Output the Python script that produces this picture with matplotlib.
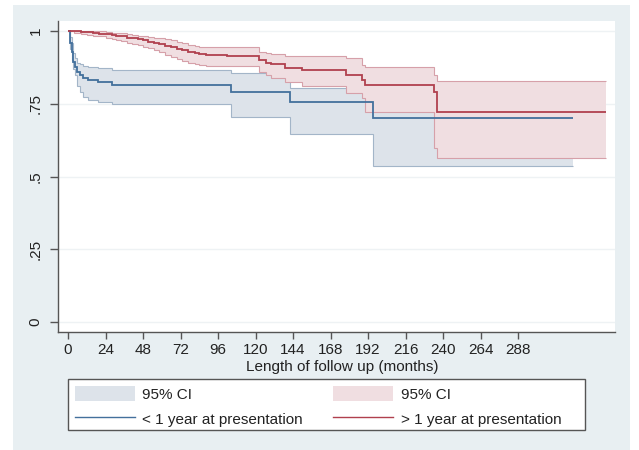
import matplotlib
matplotlib.use("Agg")
import matplotlib.pyplot as plt
from matplotlib.patches import Rectangle, Patch
from matplotlib.lines import Line2D

plt.rcParams["font.family"] = ["Liberation Sans", "DejaVu Sans"]

# Kaplan-Meier estimates: time (months), survival, lower / upper 95% CI
lt1_time = [0, 1.5, 2.3, 3.4, 4.5, 5.5, 7.7, 9.8, 13, 19.4, 28, 104, 142, 195]
lt1_surv = [1.0, 0.96, 0.93, 0.895, 0.878, 0.861, 0.85, 0.838, 0.832, 0.824, 0.814, 0.792, 0.757, 0.70]
lt1_lb = [1.0, 0.94, 0.90, 0.87, 0.85, 0.81, 0.792, 0.775, 0.764, 0.756, 0.748, 0.705, 0.646, 0.535]
lt1_ub = [1.0, 0.98, 0.959, 0.924, 0.907, 0.89, 0.886, 0.882, 0.878, 0.875, 0.867, 0.855, 0.804, 0.78]
lt1_end = 323

gt1_time = [0, 4, 8, 12, 16, 20, 24, 28, 31, 34, 38, 41, 45, 48, 51, 55, 58, 62, 66, 70, 73, 77, 81, 84,
            88, 102, 122, 127, 130, 139, 150, 178, 188, 190, 234.5, 236]
gt1_surv = [1.0, 0.999, 0.997, 0.996, 0.994, 0.992, 0.99, 0.987, 0.984, 0.982, 0.978, 0.975, 0.972, 0.968,
            0.964, 0.96, 0.955, 0.95, 0.945, 0.94, 0.935, 0.928, 0.924, 0.921,
            0.918, 0.913, 0.901, 0.89, 0.888, 0.875, 0.867, 0.85, 0.832, 0.815, 0.79, 0.722]
gt1_lb = [1.0, 0.995, 0.99, 0.988, 0.985, 0.982, 0.978, 0.973, 0.969, 0.965, 0.96, 0.957, 0.953, 0.947,
          0.941, 0.935, 0.927, 0.918, 0.911, 0.905, 0.899, 0.892, 0.887, 0.884,
          0.882, 0.882, 0.861, 0.85, 0.838, 0.824, 0.812, 0.787, 0.77, 0.723, 0.60, 0.563]
gt1_ub = [1.0, 1.0, 1.0, 1.0, 1.0, 0.999, 0.997, 0.995, 0.994, 0.993, 0.99, 0.988, 0.985, 0.982,
          0.98, 0.978, 0.975, 0.972, 0.968, 0.963, 0.958, 0.953, 0.949, 0.946,
          0.944, 0.944, 0.93, 0.925, 0.92, 0.915, 0.913, 0.907, 0.884, 0.878, 0.85, 0.83]
gt1_end = 344

xticks = list(range(0, 289, 24))
yticks = [0, 0.25, 0.5, 0.75, 1]
ylabels = ["0", ".25", ".5", ".75", "1"]

BG = "#e8eff2"
BLUE, BLUE_FILL, BLUE_EDGE = "#43709c", "#dde3ea", "#a3b5c8"
RED, RED_FILL, RED_EDGE = "#b0404e", "#f0dee1", "#d6a0a9"
FS = 11

fig = plt.figure(figsize=(6.39, 4.5), dpi=100, facecolor="white")
W, H = 639, 450
fig.patches.append(Rectangle((13 / W, 0), (630 - 13) / W, 1 - 5 / H, transform=fig.transFigure,
                             facecolor=BG, edgecolor="none", zorder=-10))

ax = fig.add_axes([58 / W, 1 - 332 / H, (615 - 58) / W, (332 - 21) / H])
ax.set_facecolor("white")

e1 = lt1_time + [lt1_end]
e2 = gt1_time + [gt1_end]

ax.stairs(lt1_ub, e1, baseline=lt1_lb, fill=True, color=BLUE_FILL, zorder=1)
ax.stairs(lt1_ub, e1, baseline=None, color=BLUE_EDGE, lw=0.8, zorder=1.1)
ax.stairs(lt1_lb, e1, baseline=None, color=BLUE_EDGE, lw=0.8, zorder=1.1)
ax.stairs(gt1_ub, e2, baseline=gt1_lb, fill=True, color=RED_FILL, zorder=2)
ax.stairs(gt1_ub, e2, baseline=None, color=RED_EDGE, lw=0.8, zorder=2.1)
ax.stairs(gt1_lb, e2, baseline=None, color=RED_EDGE, lw=0.8, zorder=2.1)
ax.stairs(lt1_surv, e1, baseline=None, color=BLUE, lw=1.3, zorder=3)
ax.stairs(gt1_surv, e2, baseline=None, color=RED, lw=1.3, zorder=4)

ax.set_xlim(-6.4, 350)
ax.set_ylim(-0.034, 1.035)
ax.set_xticks(xticks)
ax.set_xticklabels([str(t) for t in xticks], fontsize=FS, color="#222222")
ax.set_yticks(yticks)
ax.set_yticklabels(ylabels, fontsize=FS, color="#222222", rotation=90, va="center")
ax.tick_params(axis="x", length=5, width=1, color="#555555", pad=3)
ax.tick_params(axis="y", length=6, width=1, color="#555555", pad=5)
for y in yticks:
    ax.axhline(y, color="#eef2f4", lw=1, zorder=0.5)
for s in ["top", "right"]:
    ax.spines[s].set_visible(False)
for s in ["left", "bottom"]:
    ax.spines[s].set_color("#555555")
    ax.spines[s].set_linewidth(1)

ax.set_xlabel("Length of follow up (months)", fontsize=FS, color="#222222", labelpad=1)
ax.xaxis.set_label_coords((342 - 58) / (615 - 58), -0.09)

# legend with a square frame like Stata's
fig.patches.append(Rectangle((68 / W, 1 - 430 / H), (585 - 68) / W, 51 / H, transform=fig.transFigure,
                             facecolor="white", edgecolor="#555555", lw=1, zorder=1))
handles = [Patch(facecolor=BLUE_FILL, edgecolor="none"),
           Line2D([], [], color=BLUE, lw=1.0),
           Patch(facecolor=RED_FILL, edgecolor="none"),
           Line2D([], [], color=RED, lw=1.0)]
labels = ["95% CI", "< 1 year at presentation", "95% CI", "> 1 year at presentation"]
leg = fig.legend(handles, labels, ncol=2, loc="upper left", bbox_to_anchor=(75 / W, 1 - 386 / H),
                 frameon=False, fontsize=FS, handlelength=3.9, handleheight=1.1, handletextpad=0.5,
                 columnspacing=2.0, labelspacing=0.62, borderpad=0, borderaxespad=0)
for t in leg.get_texts():
    t.set_color("#222222")

fig.savefig("out.png", dpi=100, facecolor="white")
